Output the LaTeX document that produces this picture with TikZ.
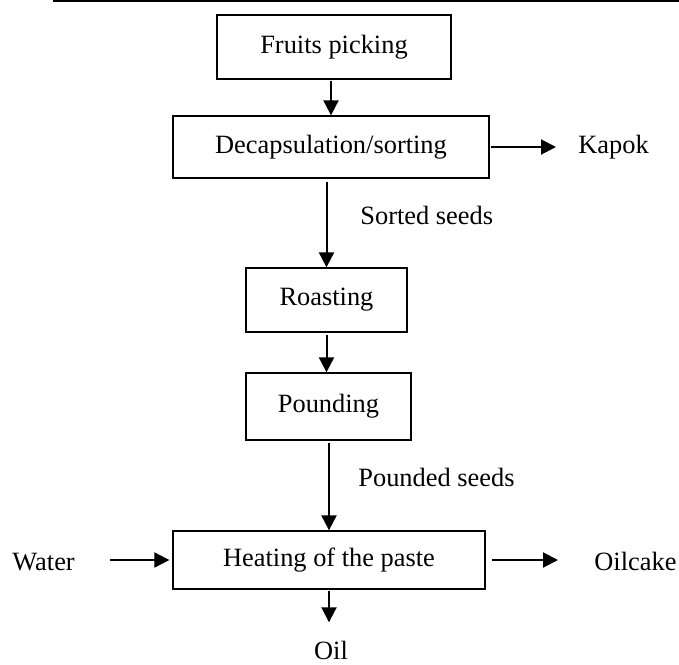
\documentclass[tikz,border=0pt]{standalone}
\usepackage{fontspec}
\setmainfont{Liberation Serif}
\usetikzlibrary{arrows.meta}

\begin{document}
\begin{tikzpicture}[x=0.5pt,y=-0.5pt,
    every node/.style={font=\fontsize{13.2}{16}\selectfont},
    stage/.style={draw,line width=0.65pt,inner sep=0pt},
    side/.style={inner sep=0pt,anchor=base west},
    flow/.style={line width=1pt,-{Triangle[length=7.5pt,width=7.5pt]}}]
    \useasboundingbox (0,0) rectangle (679,664);
    % rule on top
    \draw [line width=0.75pt] (53,1) -- (679,1);
    % stages
    \node [stage,minimum width=117pt,minimum height=32pt] (fruits) at (334,47) {Fruits picking};
    \node [stage,minimum width=158pt,minimum height=31pt] (decap) at (331,147) {Decapsulation/sorting};
    \node [stage,minimum width=80.5pt,minimum height=32pt] (roast) at (326.5,300) {Roasting};
    \node [stage,minimum width=82.5pt,minimum height=33.5pt] (pound) at (328.5,406.5) {Pounding};
    \node [stage,minimum width=156pt,minimum height=29pt] (heat) at (329,560) {Heating of the paste};
    % inputs and outputs
    \node [side] (kapok) at (578,153) {Kapok};
    \node [side] (sorted) at (360,224) {Sorted seeds};
    \node [side] (pounded) at (358,486) {Pounded seeds};
    \node [side] (water) at (12,570) {Water};
    \node [side] (oilcake) at (594,570) {Oilcake};
    \node [inner sep=0pt,anchor=base] (oil) at (331,659) {Oil};
    % flow
    \draw [flow,shorten <=0.5pt] (fruits.south -| decap.north) -- (decap.north);
    \draw [flow,shorten <=1.5pt] (decap.south -| roast.north) -- (roast.north);
    \draw [flow,shorten <=1pt] (roast.south) -- (roast.south |- pound.north);
    \draw [flow,shorten <=1pt] (pound.south -| heat.north) -- (heat.north);
    \draw [flow,shorten <=0.5pt,shorten >=9pt] (heat.south) -- (heat.south |- oil.north);
    \draw [flow,shorten <=0.5pt,shorten >=11pt] (decap.east) -- (decap.east -| kapok.west);
    \draw [flow,shorten <=17.5pt,shorten >=1.5pt] (water.east |- heat.west) -- (heat.west);
    \draw [flow,shorten <=3pt,shorten >=18pt] (heat.east) -- (heat.east -| oilcake.west);
\end{tikzpicture}
\end{document}
